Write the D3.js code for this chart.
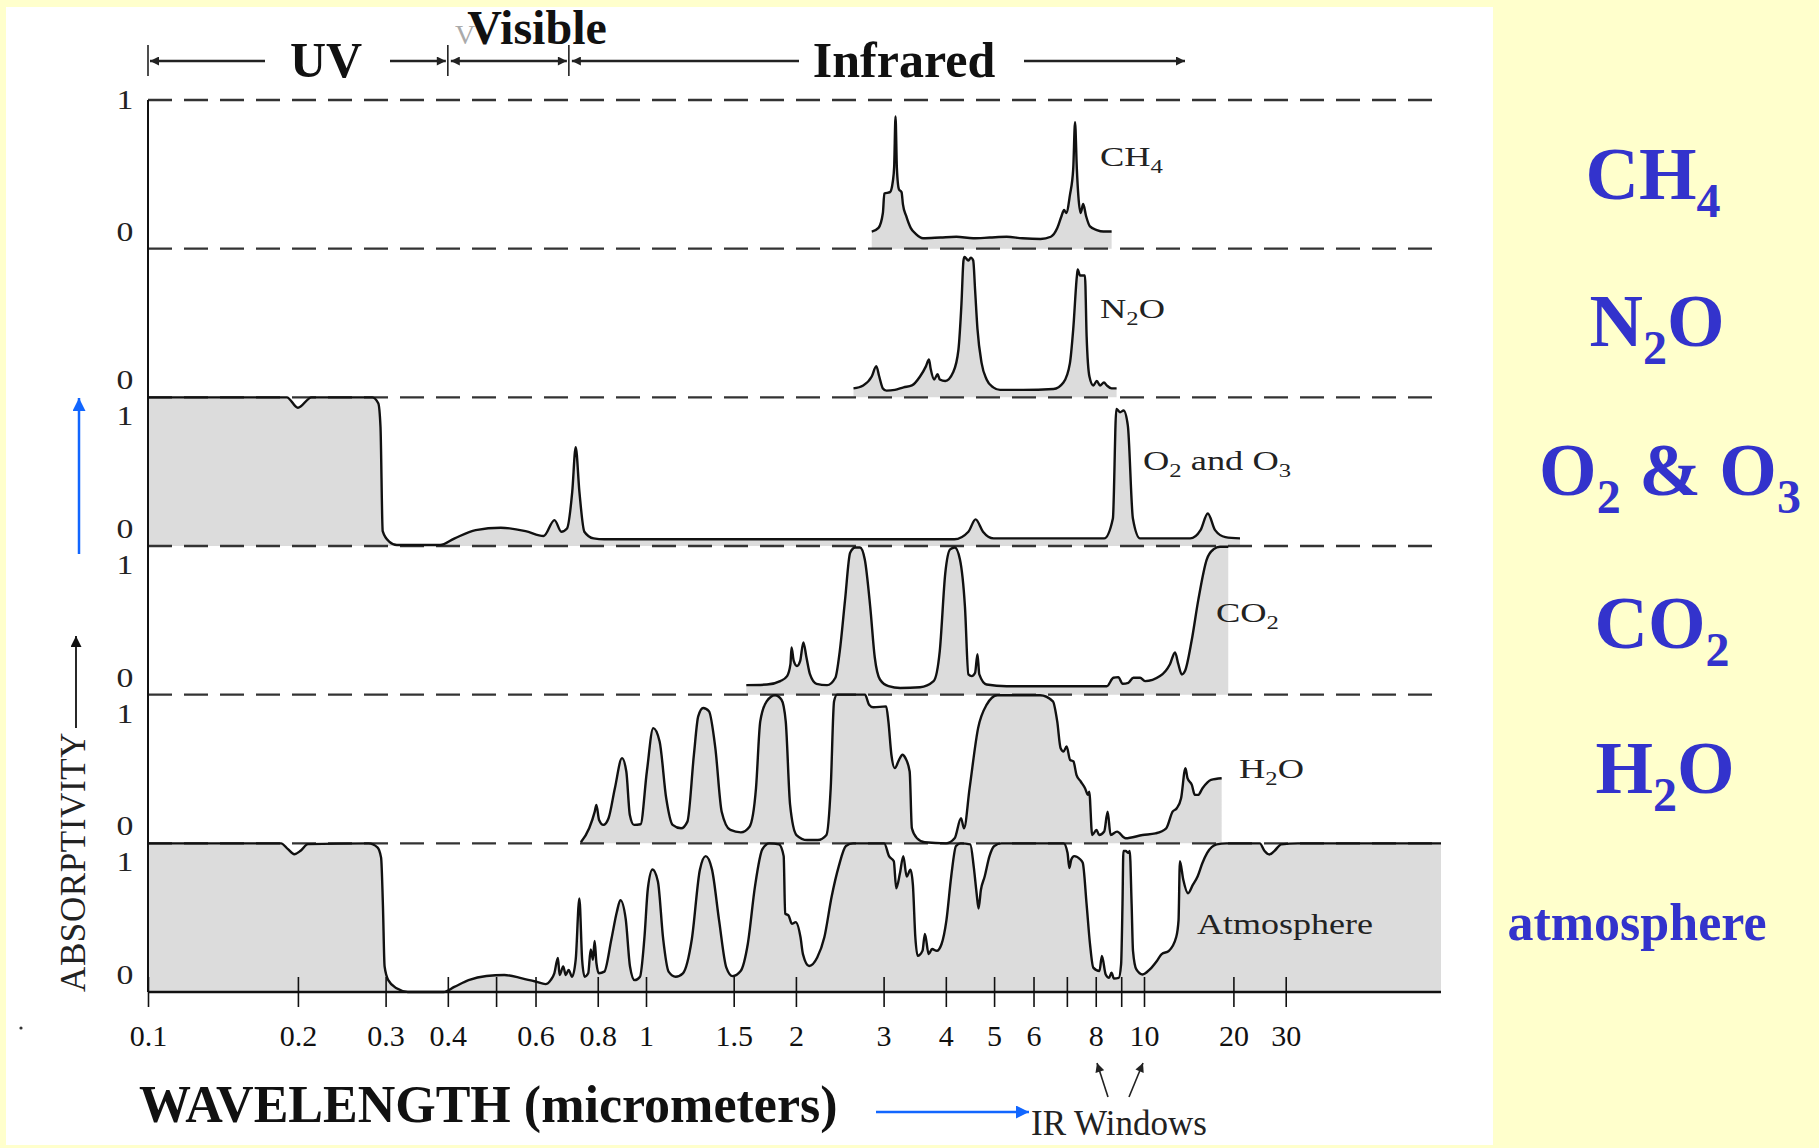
<!DOCTYPE html>
<html>
<head>
<meta charset="utf-8">
<script src="https://cdn.jsdelivr.net/npm/d3@7"></script>
<style>
body { margin: 0; background: #ffffcc; }
svg { display: block; }
text { font-family: "Liberation Serif", "Times New Roman", serif; white-space: pre; }
</style>
</head>
<body>
<div id="chart"></div>
<script>
var width = 1819,
    height = 1148;

// absorption spectra, [wavelength in micrometers, absorptivity 0..1]
var ch4 = [[2.84,0.115],[2.93,0.14],[2.99,0.24],[3.01,0.37],[3.09,0.38],[3.13,0.45],[3.15,0.55],[3.17,0.89],[3.19,0.54],
  [3.22,0.40],[3.26,0.38],[3.28,0.30],[3.33,0.22],[3.40,0.14],[3.48,0.10],[3.6,0.07],[3.9,0.075],[4.2,0.08],[4.54,0.07],
  [4.9,0.075],[5.3,0.08],[5.7,0.07],[6.2,0.065],[6.5,0.08],[6.7,0.14],[6.83,0.22],[6.91,0.26],[6.98,0.24],[7.10,0.36],
  [7.21,0.54],[7.27,0.85],[7.33,0.54],[7.38,0.36],[7.46,0.24],[7.55,0.30],[7.65,0.22],[7.79,0.15],[8.04,0.125],
  [8.29,0.115],[8.61,0.115]];

var n2o = [[2.61,0.06],[2.73,0.08],[2.84,0.14],[2.90,0.21],[2.94,0.14],[2.99,0.06],[3.04,0.045],[3.16,0.05],[3.29,0.067],
  [3.42,0.08],[3.55,0.14],[3.65,0.21],[3.70,0.255],[3.73,0.19],[3.79,0.12],[3.85,0.155],[3.89,0.12],[3.99,0.11],
  [4.14,0.17],[4.24,0.32],[4.30,0.63],[4.34,0.92],[4.36,0.945],[4.44,0.92],[4.49,0.94],[4.54,0.92],[4.58,0.72],
  [4.63,0.46],[4.72,0.23],[4.83,0.12],[4.98,0.067],[5.14,0.05],[5.72,0.05],[6.58,0.056],[6.89,0.10],[7.10,0.23],
  [7.21,0.46],[7.33,0.81],[7.36,0.86],[7.44,0.82],[7.61,0.82],[7.67,0.41],[7.77,0.14],[7.91,0.08],[8.04,0.11],
  [8.16,0.08],[8.31,0.10],[8.42,0.08],[8.61,0.06],[8.81,0.06]];

var o2o3 = [[0.1,1],[0.19,1],[0.2,0.93],[0.213,1],[0.282,1],[0.29,0.96],[0.293,0.8],[0.296,0.1],[0.305,0.03],
  [0.316,0.007],[0.386,0.007],[0.412,0.05],[0.455,0.107],[0.511,0.123],[0.573,0.10],[0.623,0.067],[0.655,0.174],
  [0.676,0.096],[0.694,0.118],[0.711,0.364],[0.7225,0.665],[0.735,0.364],[0.752,0.096],[0.785,0.051],[0.825,0.045],
  [4.16,0.045],[4.44,0.096],[4.59,0.179],[4.75,0.096],[4.99,0.051],[8.32,0.051],[8.66,0.185],[8.80,0.922],
  [8.95,0.90],[9.10,0.911],[9.28,0.81],[9.50,0.185],[9.82,0.051],[14.3,0.051],[15.5,0.107],[16.4,0.219],
  [17.35,0.107],[18.8,0.06],[21.05,0.051]];

var co2 = [[1.59,0.064],[1.75,0.068],[1.86,0.091],[1.92,0.125],[1.95,0.205],[1.96,0.318],[1.98,0.227],[2.01,0.193],
  [2.04,0.227],[2.07,0.352],[2.10,0.25],[2.135,0.136],[2.20,0.073],[2.31,0.064],[2.40,0.114],[2.45,0.295],
  [2.51,0.636],[2.57,0.955],[2.63,0.99],[2.69,0.99],[2.75,0.909],[2.82,0.591],[2.88,0.25],[2.95,0.102],[3.07,0.057],
  [3.24,0.045],[3.55,0.05],[3.78,0.091],[3.89,0.295],[3.99,0.818],[4.08,0.977],[4.17,0.99],[4.27,0.909],[4.37,0.591],
  [4.44,0.136],[4.51,0.125],[4.58,0.148],[4.63,0.273],[4.67,0.136],[4.83,0.068],[5.30,0.057],[8.42,0.057],
  [8.68,0.114],[8.88,0.118],[9.06,0.073],[9.30,0.08],[9.52,0.114],[9.82,0.114],[10.08,0.091],[11.32,0.125],
  [12.23,0.205],[12.72,0.284],[13.05,0.205],[13.40,0.136],[13.74,0.159],[14.47,0.364],[15.23,0.636],[16.26,0.909],
  [17.12,0.977],[18.03,0.995],[19.22,0.995]];

var h2o = [[0.74,0.007],[0.769,0.101],[0.789,0.213],[0.795,0.258],[0.805,0.157],[0.821,0.124],[0.841,0.169],
  [0.866,0.371],[0.895,0.573],[0.913,0.483],[0.928,0.191],[0.946,0.124],[0.975,0.128],[1.004,0.483],[1.034,0.775],
  [1.065,0.685],[1.098,0.303],[1.131,0.124],[1.176,0.101],[1.211,0.146],[1.248,0.596],[1.273,0.854],[1.303,0.91],
  [1.338,0.888],[1.378,0.64],[1.419,0.213],[1.477,0.09],[1.551,0.074],[1.614,0.112],[1.663,0.371],[1.696,0.82],
  [1.747,0.955],[1.816,0.996],[1.871,0.966],[1.908,0.82],[1.947,0.258],[2.005,0.056],[2.107,0.022],[2.214,0.022],
  [2.303,0.056],[2.349,0.371],[2.386,0.955],[2.419,1],[2.752,1],[2.805,0.933],[2.861,0.915],[3.036,0.921],
  [3.067,0.82],[3.11,0.596],[3.159,0.506],[3.222,0.562],[3.273,0.596],[3.319,0.573],[3.384,0.483],[3.419,0.101],
  [3.501,0.034],[3.628,0.007],[4.005,0],[4.166,0.034],[4.291,0.169],[4.351,0.101],[4.465,0.371],[4.644,0.775],
  [4.832,0.933],[5.077,0.996],[6.185,0.996],[6.563,0.955],[6.695,0.82],[6.801,0.64],[6.896,0.618],[6.993,0.652],
  [7.103,0.562],[7.216,0.551],[7.318,0.461],[7.464,0.416],[7.613,0.371],[7.72,0.326],[7.762,0.348],[7.87,0.056],
  [8.028,0.09],[8.125,0.056],[8.32,0.079],[8.452,0.213],[8.57,0.056],[8.829,0.079],[9.185,0.034],[9.936,0.056],
  [10.93,0.067],[11.88,0.101],[12.48,0.213],[12.89,0.236],[13.33,0.303],[13.79,0.506],[14.01,0.438],[14.49,0.393],
  [14.83,0.326],[15.22,0.326],[15.74,0.371],[16.81,0.427],[18.26,0.438]];

var atmosphere = [[0.1,1],[0.185,1],[0.191,0.961],[0.1967,0.927],[0.2025,0.95],[0.2095,0.995],[0.2773,1],[0.2889,0.973],
  [0.2938,0.904],[0.2963,0.584],[0.2986,0.172],[0.3037,0.08],[0.3164,0.023],[0.3324,0],[0.3923,0],[0.4122,0.034],
  [0.4403,0.08],[0.4782,0.108],[0.5194,0.114],[0.5638,0.092],[0.6023,0.069],[0.6281,0.053],[0.6436,0.08],
  [0.6545,0.126],[0.6655,0.229],[0.6707,0.114],[0.682,0.172],[0.69,0.114],[0.6993,0.149],[0.7106,0.103],
  [0.7225,0.217],[0.7348,0.629],[0.7443,0.217],[0.7529,0.103],[0.7655,0.126],[0.7745,0.286],[0.7824,0.217],
  [0.7886,0.343],[0.7951,0.195],[0.8043,0.126],[0.8246,0.137],[0.8521,0.355],[0.8738,0.538],[0.8883,0.618],
  [0.9104,0.492],[0.9287,0.172],[0.9487,0.08],[0.9727,0.103],[0.9922,0.355],[1.0088,0.698],[1.0306,0.824],
  [1.0566,0.744],[1.0827,0.355],[1.11,0.137],[1.147,0.103],[1.186,0.126],[1.236,0.355],[1.283,0.823],[1.318,0.914],
  [1.357,0.823],[1.402,0.482],[1.45,0.164],[1.492,0.107],[1.549,0.141],[1.601,0.323],[1.655,0.709],[1.712,0.959],
  [1.769,1],[1.849,0.993],[1.89,0.914],[1.903,0.527],[1.932,0.516],[1.963,0.459],[1.998,0.47],[2.043,0.368],
  [2.066,0.255],[2.126,0.175],[2.207,0.232],[2.281,0.368],[2.359,0.641],[2.438,0.845],[2.52,0.982],[2.605,1],
  [3.008,1],[3.076,0.914],[3.145,0.88],[3.18,0.698],[3.236,0.8],[3.286,0.914],[3.338,0.777],[3.397,0.823],
  [3.435,0.72],[3.474,0.368],[3.512,0.243],[3.591,0.277],[3.631,0.391],[3.695,0.255],[3.754,0.289],[3.836,0.277],
  [3.922,0.323],[4.011,0.482],[4.101,0.777],[4.193,0.982],[4.287,1],[4.479,0.993],[4.55,0.845],[4.612,0.664],
  [4.653,0.561],[4.704,0.686],[4.787,0.777],[4.895,0.914],[5.005,0.982],[5.173,1],[6.896,1],[7.021,0.936],
  [7.082,0.834],[7.145,0.891],[7.241,0.914],[7.452,0.891],[7.535,0.868],[7.667,0.595],[7.79,0.323],[7.909,0.164],
  [8.139,0.141],[8.231,0.243],[8.377,0.118],[8.51,0.095],[8.604,0.13],[8.702,0.091],[8.897,0.095],[8.995,0.186],
  [9.054,0.595],[9.091,0.948],[9.194,0.948],[9.296,0.936],[9.361,0.948],[9.443,0.595],[9.504,0.277],[9.654,0.152],
  [9.936,0.118],[10.46,0.152],[11.05,0.209],[11.47,0.255],[12.13,0.277],[12.83,0.368],[13.07,0.482],[13.21,0.88],
  [13.56,0.755],[14.07,0.664],[14.6,0.72],[15.15,0.777],[15.73,0.868],[16.32,0.936],[17.57,0.993],[18.93,1],
  [24.54,1],[25.47,0.948],[26.44,0.925],[27.45,0.948],[29.0,0.993],[33.0,1],[100,1]];

var gases = ["CH4", "N2O", "O2O3", "CO2", "H2O", "Atmosphere"];
var series = [ch4, n2o, o2o3, co2, h2o, atmosphere];

// text pieces: [string, isSubscript]
var panelLabels = [
  [["CH",0],["4",1]],
  [["N",0],["2",1],["O",0]],
  [["O",0],["2",1],[" and O",0],["3",1]],
  [["CO",0],["2",1]],
  [["H",0],["2",1],["O",0]],
  [["Atmosphere",0]]
];
var sideLabels = [
  [["CH",0],["4",1]],
  [["N",0],["2",1],["O",0]],
  [["O",0],["2",1],[" & O",0],["3",1]],
  [["CO",0],["2",1]],
  [["H",0],["2",1],["O",0]],
  [["atmosphere",0]]
];
var scaleTop = ["1", "", "1", "1", "1", "1"];
var scaleBottom = ["0", "0", "0", "0", "0", "0"];

var tickValues = [0.1,0.2,0.3,0.4,0.5,0.6,0.8,1,1.5,2,3,4,5,6,7,8,9,10,20,30];
var tickLabels = ["0.1","0.2","0.3","0.4","","0.6","0.8","1","1.5","2","3","4","5","6","","8","","10","20","30"];

var regionEdges = [0.1, 0.4, 0.7];
var regionNames = ["UV", "Visible", "Infrared"];

// layout
var plotLeft = 148, plotRight = 1441, dashRight = 1438;
var plotTop = 100, plotBottom = 992;

var svg = d3.select("#chart").append("svg")
    .attr("width", width)
    .attr("height", height);

var defs = svg.append("defs");
function addMarker(id, color, w, h) {
  defs.append("marker")
      .attr("id", id)
      .attr("viewBox", "0 0 10 10")
      .attr("refX", 10).attr("refY", 5)
      .attr("markerWidth", w).attr("markerHeight", h)
      .attr("markerUnits", "userSpaceOnUse")
      .attr("orient", "auto-start-reverse")
    .append("path")
      .attr("d", "M0,0L10,5L0,10Z")
      .attr("fill", color);
}
addMarker("ah", "#222", 11, 9);
addMarker("ahBig", "#111", 13, 11);
addMarker("ahBlue", "#1166ff", 15, 13);

defs.append("clipPath").attr("id", "paper")
  .append("rect").attr("x", 6).attr("y", 7).attr("width", 1487).attr("height", 1138);

svg.append("rect").attr("width", width).attr("height", height).attr("fill", "#ffffcc");
svg.append("rect").attr("x", 6).attr("y", 7).attr("width", 1487).attr("height", 1138).attr("fill", "#fff");

var g = svg.append("g").attr("clip-path", "url(#paper)");

// wavelength axis: log up to 10 um, compressed beyond
var xLog = d3.scaleLinear().domain([-1, 1, 2]).range([plotLeft, 1144, plotRight]);
function x(l) { return xLog(Math.log10(l)); }

var yBand = d3.scaleBand().domain(gases).range([plotTop, plotBottom]);
var bw = yBand.bandwidth();

function yFor(i) {
  var top = yBand(gases[i]);
  return d3.scaleLinear().domain([0, 1]).range([top + bw, top]);
}

// fills
series.forEach(function(data, i) {
  var y = yFor(i);
  var area = d3.area()
      .x(function(d) { return x(d[0]); })
      .y0(y(0))
      .y1(function(d) { return y(d[1]); })
      .curve(d3.curveMonotoneX);
  g.append("path")
      .datum(data)
      .attr("d", area)
      .attr("fill", "#dcdcdc");
});

// dashed panel tops
g.selectAll(".dash")
    .data(gases)
  .enter().append("line")
    .attr("class", "dash")
    .attr("x1", plotLeft).attr("x2", dashRight)
    .attr("y1", function(d) { return yBand(d); })
    .attr("y2", function(d) { return yBand(d); })
    .attr("stroke", "#333")
    .attr("stroke-width", 2.4)
    .attr("stroke-dasharray", "24,12");

// left axis and baseline
g.append("line").attr("x1", plotLeft).attr("x2", plotLeft).attr("y1", plotTop).attr("y2", plotBottom)
    .attr("stroke", "#111").attr("stroke-width", 2);
g.append("line").attr("x1", plotLeft).attr("x2", plotRight).attr("y1", plotBottom).attr("y2", plotBottom)
    .attr("stroke", "#111").attr("stroke-width", 2.6);

// curves
series.forEach(function(data, i) {
  var y = yFor(i);
  var line = d3.line()
      .x(function(d) { return x(d[0]); })
      .y(function(d) { return y(d[1]); })
      .curve(d3.curveMonotoneX);
  g.append("path")
      .datum(data)
      .attr("d", line)
      .attr("fill", "none")
      .attr("stroke", "#111")
      .attr("stroke-width", 2.4)
      .attr("stroke-linejoin", "round");
});

function rich(sel, parts, subSize, subDy) {
  parts.forEach(function(p, i) {
    var ts = sel.append("tspan").text(p[0]);
    if (p[1]) ts.attr("font-size", subSize).attr("dy", subDy);
    else if (i > 0 && parts[i - 1][1]) ts.attr("dy", -subDy);
  });
}

// panel labels
var labelPos = [[1100, 66], [1100, 69], [1143, 73], [1216, 76], [1239, 83], [1197, 91]];
panelLabels.forEach(function(parts, i) {
  var isAtm = i === gases.length - 1;
  var t = g.append("text")
      .attr("transform", "translate(" + labelPos[i][0] + "," + (yBand(gases[i]) + labelPos[i][1]) + ") scale(" + (isAtm ? 1.2 : 1.3) + ",1)")
      .attr("font-size", isAtm ? 30 : 28)
      .attr("fill", "#222");
  rich(t, parts, 19, 7);
});

// 0 / 1 scale labels
gases.forEach(function(gas, i) {
  var top = yBand(gas);
  if (scaleTop[i]) {
    g.append("text")
        .attr("transform", "translate(125," + (i === 0 ? top + 9 : top + 28) + ") scale(1.25,1)")
        .attr("text-anchor", "middle")
        .attr("font-size", 27).attr("fill", "#222")
        .text(scaleTop[i]);
  }
  g.append("text")
      .attr("transform", "translate(125," + (top + bw - 8) + ") scale(1.25,1)")
      .attr("text-anchor", "middle")
      .attr("font-size", 27).attr("fill", "#222")
      .text(scaleBottom[i]);
});

// wavelength ticks
var axis = g.append("g")
    .attr("transform", "translate(0," + plotBottom + ")")
    .call(d3.axisBottom(xLog)
      .tickValues(tickValues.map(Math.log10))
      .tickFormat(function(d, i) { return tickLabels[i]; })
      .tickSize(15)
      .tickPadding(18));
axis.select(".domain").remove();
axis.selectAll(".tick line").attr("y1", -15).attr("stroke", "#111").attr("stroke-width", 1.6);
axis.selectAll(".tick text")
    .attr("font-family", "'Liberation Serif', serif")
    .attr("font-size", 30)
    .attr("fill", "#111");

// spectral regions at the top
var arrowY = 61;
regionEdges.forEach(function(e) {
  g.append("line").attr("x1", x(e)).attr("x2", x(e)).attr("y1", 45).attr("y2", 76)
      .attr("stroke", "#222").attr("stroke-width", 1.6);
});
var regionArrows = [
  [265, x(0.1) + 2, "end"], [390, x(0.4) - 2, "end"],
  [x(0.4) + 3, x(0.7) - 2, "both"],
  [799, x(0.7) + 3, "end"], [1024, 1185, "end"]
];
regionArrows.forEach(function(a) {
  var l = g.append("line").attr("x1", a[0]).attr("x2", a[1]).attr("y1", arrowY).attr("y2", arrowY)
      .attr("stroke", "#222").attr("stroke-width", 2.4)
      .attr("marker-end", "url(#ah)");
  if (a[2] === "both") l.attr("marker-start", "url(#ah)");
});
g.append("text").attr("x", 455).attr("y", 44).attr("font-size", 28).attr("fill", "#aaa").text("V");
var regionText = [[326, 77, 50], [537, 44, 48], [904, 77, 50]];
regionNames.forEach(function(n, i) {
  g.append("text")
      .attr("x", regionText[i][0]).attr("y", regionText[i][1])
      .attr("text-anchor", "middle")
      .attr("font-size", regionText[i][2]).attr("font-weight", "bold").attr("fill", "#111")
      .text(n);
});

// axis titles
g.append("text")
    .attr("transform", "translate(85," + plotBottom + ") rotate(-90)")
    .attr("font-size", 35).attr("letter-spacing", 0.6).attr("fill", "#222")
    .text("ABSORPTIVITY");
g.append("line").attr("x1", 76).attr("x2", 76).attr("y1", 728).attr("y2", 636)
    .attr("stroke", "#111").attr("stroke-width", 1.8).attr("marker-end", "url(#ahBig)");
g.append("line").attr("x1", 79).attr("x2", 79).attr("y1", 554).attr("y2", 398)
    .attr("stroke", "#1166ff").attr("stroke-width", 2.5).attr("marker-end", "url(#ahBlue)");

g.append("text")
    .attr("x", 139).attr("y", 1122)
    .attr("font-size", 52).attr("font-weight", "bold").attr("fill", "#111")
    .text("WAVELENGTH (micrometers)");
g.append("line").attr("x1", 876).attr("x2", 1029).attr("y1", 1112).attr("y2", 1112)
    .attr("stroke", "#1166ff").attr("stroke-width", 2.5).attr("marker-end", "url(#ahBlue)");
g.append("text")
    .attr("x", 1031).attr("y", 1135)
    .attr("font-size", 35).attr("fill", "#222")
    .text("IR Windows");
g.append("line").attr("x1", 1108).attr("y1", 1097).attr("x2", 1097).attr("y2", 1063)
    .attr("stroke", "#222").attr("stroke-width", 1.6).attr("marker-end", "url(#ah)");
g.append("line").attr("x1", 1129).attr("y1", 1097).attr("x2", 1143).attr("y2", 1063)
    .attr("stroke", "#222").attr("stroke-width", 1.6).attr("marker-end", "url(#ah)");
g.append("circle").attr("cx", 21).attr("cy", 1028).attr("r", 1.6).attr("fill", "#333");

// blue list on the right
var sidePos = [[1653, 199], [1657, 346], [1670, 495], [1662, 648], [1665, 793], [1637, 940]];
sideLabels.forEach(function(parts, i) {
  var small = i === sideLabels.length - 1;
  var t = svg.append("text")
      .attr("x", sidePos[i][0]).attr("y", sidePos[i][1])
      .attr("text-anchor", "middle")
      .attr("font-size", small ? 52 : 74)
      .attr("font-weight", "bold")
      .attr("fill", "#3333cc");
  rich(t, parts, 48, 18);
});
</script>
</body>
</html>
